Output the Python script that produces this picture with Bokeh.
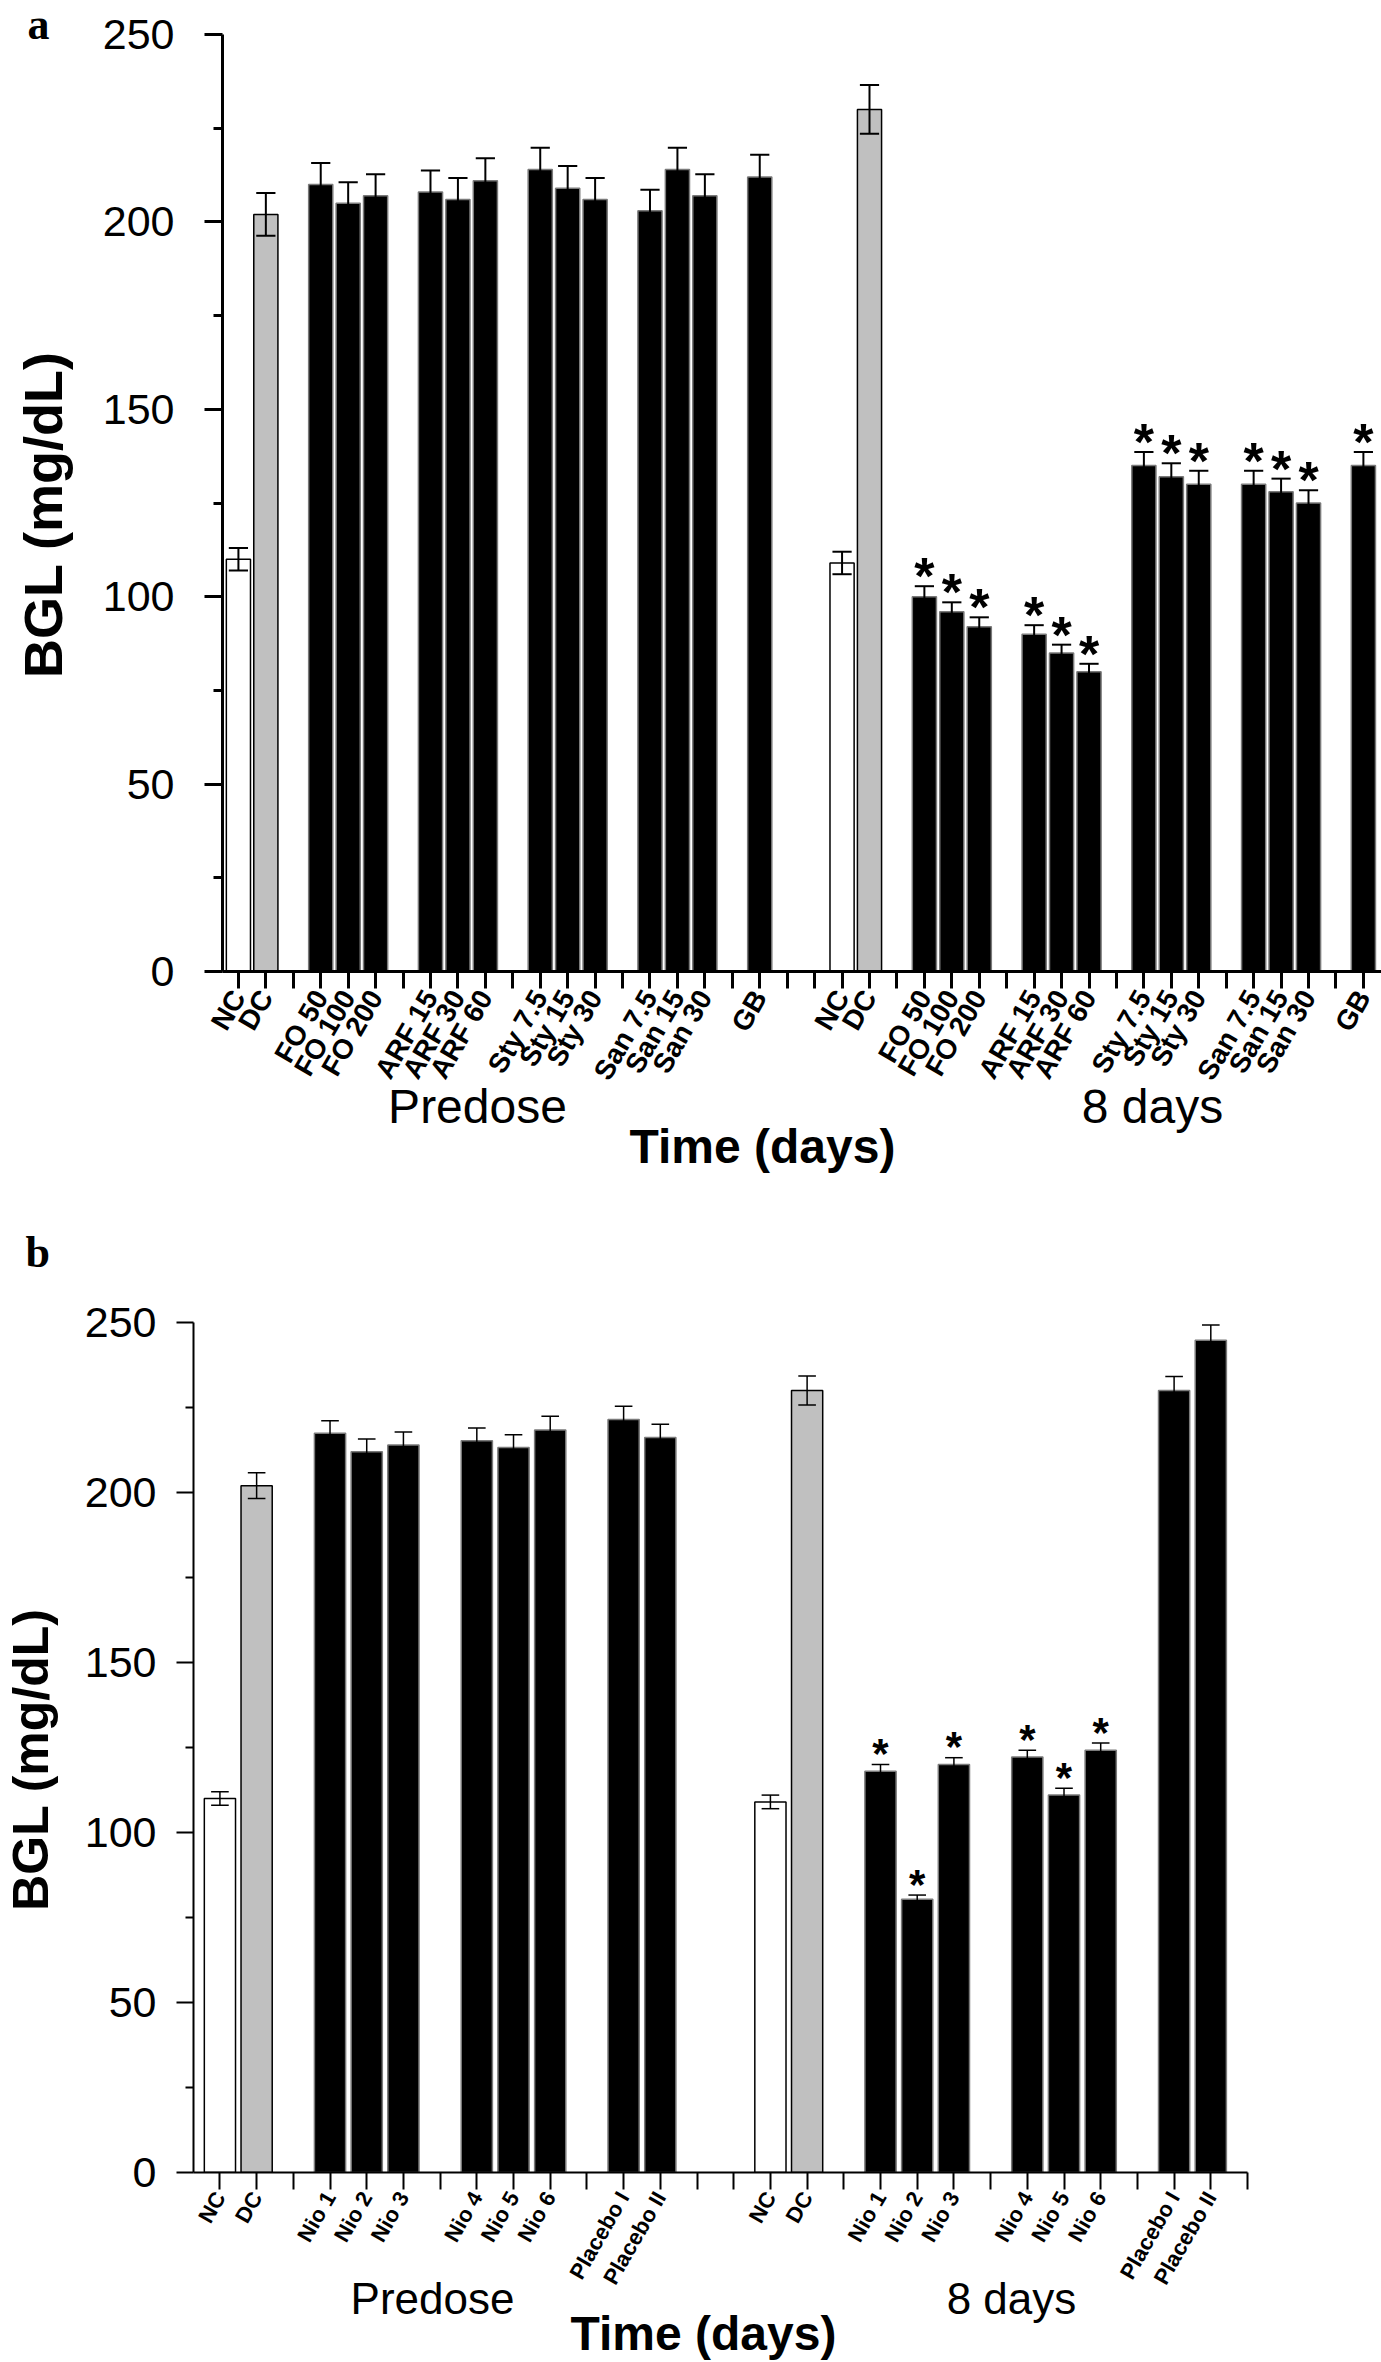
import math
from bokeh.plotting import figure
from bokeh.models import ColumnDataSource, Range1d, FixedTicker, LinearAxis
from bokeh.layouts import column, row
from bokeh.embed import file_html
from bokeh.resources import INLINE
from bokeh.core.properties import value

# ---------------- data: panel a ----------------
a_labels = ["NC", "DC", "FO 50", "FO 100", "FO 200", "ARF 15", "ARF 30", "ARF 60",
            "Sty 7.5", "Sty 15", "Sty 30", "San 7.5", "San 15", "San 30", "GB"]
a_groups = ["ctrl", "ctrl", "FO", "FO", "FO", "ARF", "ARF", "ARF",
            "Sty", "Sty", "Sty", "San", "San", "San", "GB"]
a_kind = ["normal", "diabetic"] + ["treated"] * 13
a_predose = [110, 202, 210, 205, 207, 208, 206, 211, 214, 209, 206, 203, 214, 207, 212]
a_predose_err = [3, 5.7, 5.7, 5.6, 5.7, 5.7, 5.7, 6, 5.8, 5.9, 5.7, 5.6, 5.8, 5.7, 5.9]
a_day8 = [109, 230, 100, 96, 92, 90, 85, 80, 135, 132, 130, 130, 128, 125, 135]
a_day8_err = [3, 6.5, 2.8, 2.5, 2.5, 2.4, 2.2, 2.1, 3.6, 3.6, 3.6, 3.6, 3.5, 3.4, 3.6]
a_day8_sig = [0, 0] + [1] * 13

# ---------------- data: panel b ----------------
b_labels = ["NC", "DC", "Nio 1", "Nio 2", "Nio 3", "Nio 4", "Nio 5", "Nio 6",
            "Placebo I", "Placebo II"]
b_groups = ["ctrl", "ctrl", "N1", "N1", "N1", "N2", "N2", "N2", "P", "P"]
b_kind = ["normal", "diabetic"] + ["treated"] * 8
b_predose = [110, 202, 217.4, 212, 214, 215.2, 213.2, 218.4, 221.5, 216.2]
b_predose_err = [2, 3.8, 3.7, 3.7, 3.8, 3.8, 3.8, 4, 3.9, 3.9]
b_day8 = [109, 230, 118, 80.4, 120, 122.2, 111, 124.2, 230, 244.8]
b_day8_err = [2, 4.3, 2, 1.2, 2, 2, 2, 2.1, 4.1, 4.5]
b_day8_sig = [0, 0, 1, 1, 1, 1, 1, 1, 0, 0]

sections = ["Predose", "8 days"]
y_ticks = [0, 50, 100, 150, 200, 250]
y_minor = [25, 75, 125, 175, 225]
y_axis_title = "BGL (mg/dL)"
x_axis_title = "Time (days)"

FILL = {"normal": "white", "diabetic": "#c0c0c0", "treated": "black"}
EDGE = {"normal": "black", "diabetic": "black", "treated": "#7a7a7a"}
FONT = "Liberation Sans"


def slot_positions(groups, group_gap=1, section_gap=2):
    pos, s = [], 0
    for i, g in enumerate(groups):
        if i > 0 and g != groups[i - 1]:
            s += group_gap
        pos.append(s)
        s += 1
    offset = s + section_gap
    return pos, [p + offset for p in pos]


def blank_fig(w, h):
    f = figure(width=w, height=h, x_range=Range1d(0, w), y_range=Range1d(h, 0),
               x_axis_type=None, y_axis_type=None, output_backend="svg",
               toolbar_location=None, min_border=0, title=None)
    f.frame_align = False
    f.xgrid.visible = False
    f.ygrid.visible = False
    f.outline_line_color = None
    return f


def text_axis(ticks, labels, size, style, standoff):
    ax = LinearAxis(ticker=FixedTicker(ticks=ticks),
                    major_label_overrides=dict(zip(ticks, labels)))
    ax.axis_line_color = None
    ax.major_tick_line_color = None
    ax.minor_tick_line_color = None
    ax.major_tick_out = 0
    ax.major_tick_in = 0
    ax.minor_tick_out = 0
    ax.minor_tick_in = 0
    ax.major_label_text_font = FONT
    ax.major_label_text_font_size = size
    ax.major_label_text_font_style = style
    ax.major_label_text_color = "black"
    ax.major_label_standoff = standoff
    return ax


def build_panel(letter, labels, groups, kind, pre, pre_e, d8, d8_e, d8_sig, cfg):
    strip_w = cfg["strip"]
    W_fig, H_fig = cfg["width"] - strip_w, cfg["height"]
    L, T, R, B = cfg["left"] - strip_w, cfg["top"], cfg["right"], cfg["bottom"]
    Wf, Hf = W_fig - L - R, H_fig - T - B
    xr = cfg["xrange"]
    yr = (0, 250)
    frame_left_page = cfg["left"]

    def page2x(px):
        return round(xr[0] + (px - frame_left_page) / Wf * (xr[1] - xr[0]), 3)

    ppu = Hf / (yr[1] - yr[0])

    p = figure(width=W_fig, height=H_fig, x_range=Range1d(*xr), y_range=Range1d(*yr),
               output_backend="svg", toolbar_location=None, title=None,
               min_border_left=L, min_border_right=R, min_border_top=T, min_border_bottom=B)
    p.frame_align = False
    p.xgrid.visible = False
    p.ygrid.visible = False
    p.outline_line_color = None

    s_pre, s_d8 = slot_positions(groups)
    xs = s_pre + s_d8
    vals = list(pre) + list(d8)
    errs = list(pre_e) + list(d8_e)
    kinds = list(kind) + list(kind)
    cap = cfg["cap"]
    src = ColumnDataSource(dict(
        x=xs, top=vals,
        fill=[FILL[k] for k in kinds], edge=[EDGE[k] for k in kinds],
        lo=[v - e for v, e in zip(vals, errs)], hi=[v + e for v, e in zip(vals, errs)],
        cl=[x - cap / 2 for x in xs], cr=[x + cap / 2 for x in xs],
    ))
    p.vbar(x="x", top="top", bottom=0, width=cfg["bar_w"], source=src,
           fill_color="fill", line_color="edge", line_width=cfg["bar_lw"])
    for x0, y0, x1, y1 in (("x", "lo", "x", "hi"), ("cl", "hi", "cr", "hi"),
                           ("cl", "lo", "cr", "lo")):
        p.segment(x0=x0, y0=y0, x1=x1, y1=y1, source=src, line_color="black",
                  line_width=cfg["err_lw"])

    # significance asterisks
    sx = [x for x, s in zip(s_d8, d8_sig) if s]
    sy = [v + e + cfg["star_lift_px"] / ppu for v, e, s in zip(d8, d8_e, d8_sig) if s]
    p.text(x=sx, y=sy, text=["*"] * len(sx), text_font=value(FONT), text_font_style="bold",
           text_font_size=cfg["star_size"], text_align="center", text_baseline="middle",
           text_color="black")

    # x axis (categories)
    ticks = list(range(0, int(math.floor(xr[1])) + 1))
    overrides = {t: "" for t in ticks}
    for x, lab in zip(s_pre, labels):
        overrides[x] = lab
    for x, lab in zip(s_d8, labels):
        overrides[x] = lab
    ax = p.xaxis[0]
    ax.ticker = FixedTicker(ticks=ticks)
    ax.major_label_overrides = overrides
    ax.major_label_orientation = cfg["label_angle"]
    ax.major_label_text_font = FONT
    ax.major_label_text_font_style = "bold"
    ax.major_label_text_font_size = cfg["xlabel_size"]
    ax.major_label_text_color = "black"
    ax.major_label_standoff = cfg["xlabel_standoff"]
    ax.major_tick_out = cfg["xtick_out"]
    ax.major_tick_in = 0
    ax.minor_tick_out = 0
    ax.minor_tick_in = 0
    ax.axis_line_width = cfg["axis_lw"]
    ax.major_tick_line_width = cfg["axis_lw"]
    ax.axis_line_color = "black"
    ax.major_tick_line_color = "black"

    # section names and axis title, as extra label-only axes below
    sec_ticks = [page2x(px) for px in cfg["section_px"]]
    p.add_layout(text_axis(sec_ticks, sections, cfg["section_size"], "normal",
                           cfg["section_standoff"]), "below")
    p.add_layout(text_axis([page2x(cfg["xtitle_px"])], [x_axis_title], cfg["title_size"],
                           "bold", cfg["xtitle_standoff"]), "below")

    # y axis
    ay = p.yaxis[0]
    ay.ticker = FixedTicker(ticks=y_ticks, minor_ticks=y_minor)
    ay.major_label_text_font = FONT
    ay.major_label_text_font_size = cfg["ylabel_size"]
    ay.major_label_text_color = "black"
    ay.major_label_standoff = cfg["ylabel_standoff"]
    ay.major_tick_out = cfg["ytick_out"]
    ay.major_tick_in = 0
    ay.minor_tick_out = cfg["yminor_out"]
    ay.minor_tick_in = 0
    ay.axis_line_width = cfg["axis_lw"]
    ay.major_tick_line_width = cfg["axis_lw"]
    ay.minor_tick_line_width = cfg["axis_lw"]
    ay.axis_line_color = "black"
    ay.major_tick_line_color = "black"
    ay.minor_tick_line_color = "black"

    # left strip with the panel letter and the y-axis title
    s = blank_fig(strip_w, H_fig)
    s.text(x=[cfg["letter_pos"][0]], y=[cfg["letter_pos"][1]], text=[letter],
           text_font=value("Liberation Serif"), text_font_style="bold",
           text_font_size=cfg["letter_size"], text_align="left",
           text_baseline="middle", text_color="black")
    s.text(x=[cfg["ytitle_pos"][0]], y=[cfg["ytitle_pos"][1]], text=[y_axis_title],
           text_font=value(FONT), text_font_style="bold", text_font_size=cfg["ytitle_size"],
           text_align="center", text_baseline="middle", angle=math.pi / 2,
           text_color="black")
    return row(s, p, spacing=0)


cfg_a = dict(width=1381, height=1196, strip=80, left=222, top=34, right=0, bottom=225,
             xrange=(-0.58, 41.66), bar_w=0.88, bar_lw=1.5, cap=0.7, err_lw=2,
             star_lift_px=10, star_size="52px", label_angle=1.047, xlabel_size="28px",
             xlabel_standoff=4, xtick_out=17, axis_lw=3, ylabel_size="43px",
             ylabel_standoff=30, ytick_out=18, yminor_out=9,
             letter_pos=(27, 24), letter_size="44px", ytitle_pos=(42, 514),
             ytitle_size="54px", title_size="48px", section_px=[477, 1152],
             section_size="48px", section_standoff=-16, xtitle_px=762,
             xtitle_standoff=-16)

cfg_b = dict(width=1381, height=1166, strip=80, left=193, top=126, right=134, bottom=190,
             xrange=(-0.72, 28.0), bar_w=0.85, bar_lw=1.5, cap=0.48, err_lw=1.5,
             star_lift_px=11, star_size="42px", label_angle=1.047, xlabel_size="22px",
             xlabel_standoff=4, xtick_out=17, axis_lw=2, ylabel_size="43px",
             ylabel_standoff=20, ytick_out=17, yminor_out=8,
             letter_pos=(25, 56), letter_size="44px", ytitle_pos=(30, 563),
             ytitle_size="50px", title_size="48px", section_px=[432, 1011],
             section_size="44px", section_standoff=-24, xtitle_px=703,
             xtitle_standoff=-19)

pa = build_panel("a", a_labels, a_groups, a_kind, a_predose, a_predose_err,
                 a_day8, a_day8_err, a_day8_sig, cfg_a)
pb = build_panel("b", b_labels, b_groups, b_kind, b_predose, b_predose_err,
                 b_day8, b_day8_err, b_day8_sig, cfg_b)

layout = column(pa, pb, spacing=0)
open("out.html", "w").write(file_html(layout, INLINE))
